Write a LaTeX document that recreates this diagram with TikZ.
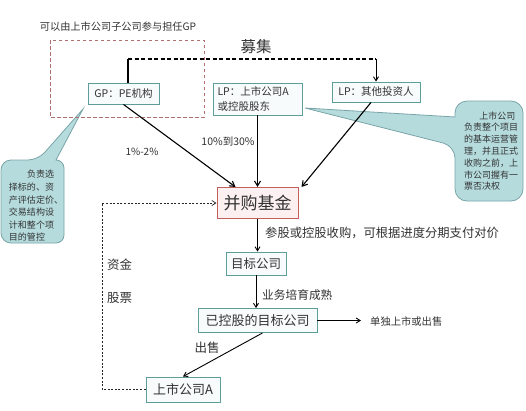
\documentclass[tikz,border=0pt]{standalone}
\usepackage{fontspec}
\setmainfont{Noto Sans CJK SC}
\usetikzlibrary{arrows.meta}
\definecolor{boxteal}{HTML}{5E9E9A}
\definecolor{boxfill}{HTML}{F7FBFB}
\definecolor{fundred}{HTML}{C0605C}
\definecolor{fundfill}{HTML}{FCF1F0}
\definecolor{dashred}{HTML}{B07070}
\definecolor{callfill}{HTML}{B5DBDD}
\definecolor{calldraw}{HTML}{7AA5A8}
\definecolor{txt}{HTML}{333333}
\newcommand{\myfs}[2]{\fontsize{#1}{#2}\selectfont}
\begin{document}
\begin{tikzpicture}[x=1pt,y=-1pt,
  box/.style={draw=boxteal, fill=boxfill, line width=0.9pt, inner sep=0pt, text=txt, font=\myfs{10.5}{15}},
  fundbox/.style={draw=fundred, fill=fundfill, line width=1pt, inner sep=0pt, text=txt, font=\myfs{17}{20}},
  arr/.style={-{Straight Barb[length=5pt,width=6pt]}, line width=1.1pt, draw=black},
  thinarr/.style={-{Straight Barb[length=4pt,width=5pt]}, line width=0.9pt, draw=black},
  topdash/.style={dash pattern=on 4pt off 2.5pt, line width=1.1pt, draw=black},
  loopdash/.style={dash pattern=on 2pt off 1.6pt, line width=0.7pt, draw=black!85},
  lbl/.style={text=txt, inner sep=0pt},
  callout/.style={fill=callfill, draw=calldraw, line width=0.8pt},
  calltext/.style={text=txt, inner sep=0pt, align=left}
]
\useasboundingbox[fill=white] (0,0) rectangle (526,410);

% callouts (drawn first)
\draw[callout] (32,243) [rounded corners=10pt] -- (1,243) -- (1,160) -- (38,160)
  [sharp corners] -- (83,109) -- (56,160) -- (57,160) [rounded corners=8pt] -- (64,160) -- (64,243) -- cycle;
\node[calltext, font=\myfs{9}{12.6}] (lnote) at (36,206) {\hspace*{2em}负责选\\择标的、资\\产评估定价、\\交易结构设\\计和整个项\\目的管控};

\draw[callout] (488,201) [rounded corners=12pt] -- (455,201) -- (455,146)
  [sharp corners] -- (305,108) -- (455,117) -- (455,116) [rounded corners=12pt] -- (455,101) -- (523,101) -- (523,201) -- cycle;
\node[calltext, font=\myfs{9}{11.8}] (rnote) at (491,151) {\hspace*{1.7em}上市公司\\负责整个项目\\的基本运营管\\理，并且正式\\收购之前，上\\市公司握有一\\票否决权};

% dashed GP frame
\draw[dashred, dash pattern=on 3.5pt off 2.5pt, line width=1pt] (50,40) rectangle (204,117);

% texts on top
\node[lbl, font=\myfs{10.2}{12}] (toptext) at (118,27) {可以由上市公司子公司参与担任GP};
\node[lbl, font=\myfs{15.5}{18}] (mu) at (256,47) {募集};

% nodes
\node[box, minimum width=71pt, minimum height=21pt] (gp) at (123.5,93.5) {GP：PE机构};
\node[box, text width=80pt, inner xsep=4.5pt, minimum height=32pt, align=left] (lpa) at (257.5,99) {LP：上市公司A\\或控股股东};
\node[box, minimum width=88pt, minimum height=20pt] (lpo) at (376,92) {LP：其他投资人};
\node[fundbox, minimum width=81pt, minimum height=31pt] (fund) at (257.5,203) {并购基金};
\node[box, minimum width=60pt, minimum height=23pt, font=\myfs{12.5}{15}] (tgt) at (256,263.5) {目标公司};
\node[box, minimum width=119pt, minimum height=24pt, font=\myfs{13}{15}] (held) at (257.5,320.5) {已控股的目标公司};
\node[box, minimum width=74pt, minimum height=25pt, font=\myfs{13}{15}] (lca) at (183,389.5) {上市公司A};

% top connectors
\coordinate (tl) at (128,59);
\coordinate (tr) at (376,59);
\draw[line width=1.3pt] (tl) -- (tl |- gp.north);
\draw[topdash] (tl) -- (tr);
\draw[thinarr] (tr) -- (lpo.north);

% arrows into fund
\draw[arr] (gp.south) -- ([xshift=-22pt]fund.north);
\draw[arr] (lpa.south) -- (fund.north);
\draw[arr] ([xshift=-5pt]lpo.south) -- ([xshift=44pt]fund.north);
\node[lbl, font=\myfs{10}{12}] (p1) at (142,152) {1\%-2\%};
\node[lbl, font=\myfs{10.5}{12}] (p2) at (228,141) {10\%到30\%};

% chain downwards
\draw[thinarr] (fund.south) -- (fund.south |- tgt.north);
\node[lbl, font=\myfs{12.3}{14}, anchor=west] (pay) at (265,233) {参股或控股收购，可根据进度分期支付对价};
\draw[thinarr] (tgt.south) -- (tgt.south |- held.north);
\node[lbl, font=\myfs{11.7}{14}, anchor=west] (grow) at (262,295) {业务培育成熟};
\coordinate (sellend) at (361,320.5);
\draw[thinarr] (held.east) -- (sellend);
\node[lbl, font=\myfs{10.3}{12}, anchor=west] (ipo) at (370,322) {单独上市或出售};
\draw[thinarr] ([xshift=5pt]held.south) -- (lca.north);
\node[lbl, font=\myfs{12.5}{14}] (sell) at (207,348) {出售};

% loop back
\coordinate (lp) at (102,300);
\draw[loopdash, -{Straight Barb[length=4pt,width=5pt]}] (lca.west) -- (lca.west -| lp) -- (lp |- fund.west) -- (fund.west);
\node[lbl, font=\myfs{12.5}{14}] (cash) at (119.5,265) {资金};
\node[lbl, font=\myfs{12.5}{14}] (stock) at (119.5,298) {股票};
\end{tikzpicture}
\end{document}
